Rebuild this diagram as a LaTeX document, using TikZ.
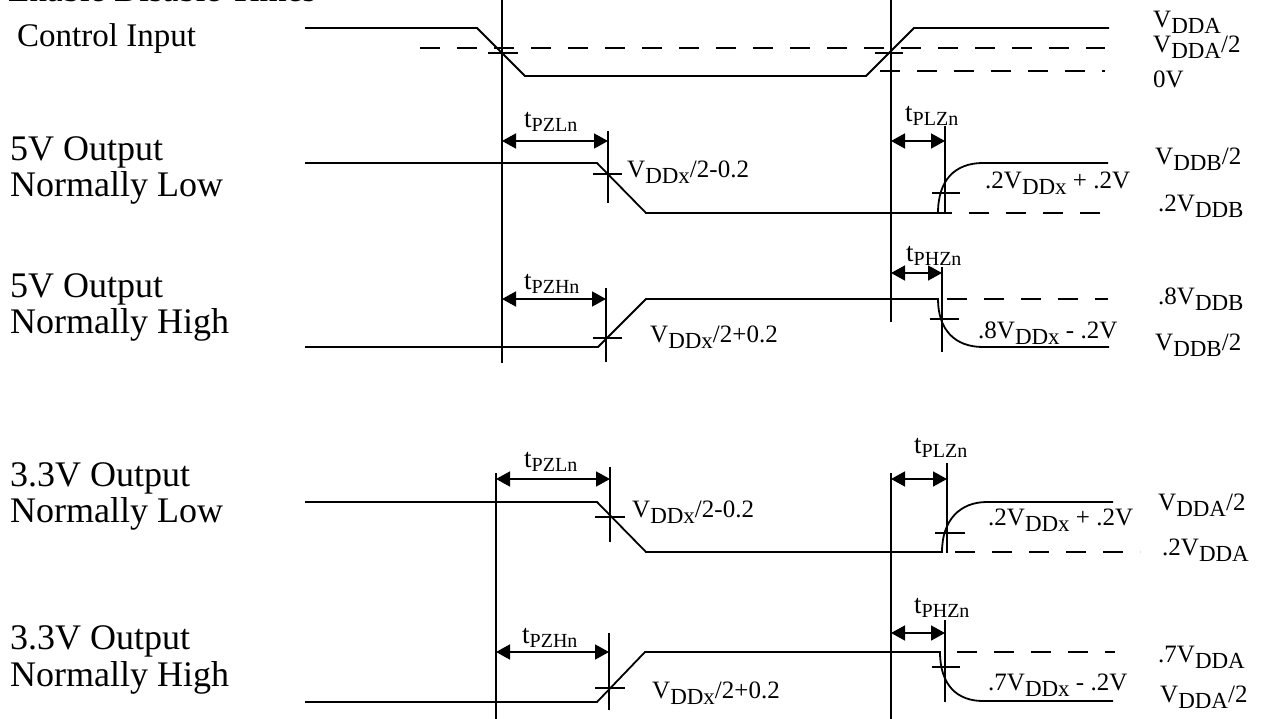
\documentclass[tikz,border=0pt]{standalone}
\usepackage{fontspec}
\setmainfont{Liberation Serif}
\usetikzlibrary{arrows.meta}
\newcommand{\bigf}{\fontsize{33}{36}\selectfont}
\newcommand{\titf}{\fontsize{35}{38}\selectfont}
\newcommand{\leftf}{\fontsize{36}{40}\selectfont}
\newcommand{\midf}{\fontsize{25}{28}\selectfont}
\newcommand{\tf}{\fontsize{27}{30}\selectfont}
\newcommand{\sbx}[1]{\raisebox{-6pt}{\fontsize{23}{23}\selectfont #1}}
\newcommand{\tsb}[1]{\raisebox{-4pt}{\fontsize{20}{20}\selectfont #1}}
\tikzset{
  wave/.style={line width=1.8pt},
  guide/.style={line width=1.3pt},
  dline/.style={line width=1.3pt, dash pattern=on 20pt off 17pt},
  tarrow/.style={{Triangle[length=14pt,width=15pt]}-{Triangle[length=14pt,width=15pt]}, line width=1.6pt},
  lbl/.style={anchor=base west, inner sep=0pt, font=\midf},
  tlbl/.style={anchor=base west, inner sep=0pt, font=\tf},
  lft/.style={anchor=base west, inner sep=0pt, font=\leftf},
}
\begin{document}
\begin{tikzpicture}[x=1pt,y=-1pt]
\clip (0,0) rectangle (1269,719);
\useasboundingbox (0,0) rectangle (1269,719);
% title (cut off at the top edge, as in the reference)
\node[anchor=base west, inner sep=0pt, font=\titf] (title) at (8,2) {Enable Disable Times};
% left labels
\node[anchor=base west, inner sep=0pt, font=\bigf] (ci) at (17,47) {Control Input};
\node[lft] (l1a) at (10,161) {5V Output};
\node[lft] (l1b) at (10,197) {Normally Low};
\node[lft] (l2a) at (10,298) {5V Output};
\node[lft] (l2b) at (10,334) {Normally High};
\node[lft] (l3a) at (10,486) {3.3V Output};
\node[lft] (l3b) at (10,522) {Normally Low};
\node[lft] (l4a) at (10,649) {3.3V Output};
\node[lft] (l4b) at (10,686) {Normally High};

% vertical reference lines
\draw[guide] (502,0) -- (502,363);
\draw[guide] (891,0) -- (891,322);
\draw[guide] (496,473) -- (496,719);
\draw[guide] (891,473) -- (891,719);

% ---- Control input
\draw[dline] (420,48) -- (1105,48);
\draw[dline] (880,71) -- (1105,71);
\draw[wave] (305,28) -- (477,28) -- (525,76) -- (866,76) -- (914,28) -- (1109,28);
\draw[guide] (488,53) -- (518,53);
\draw[guide] (875,53) -- (903,53);
\node[lbl] (r0a) at (1153,28) {V\sbx{DDA}};
\node[lbl] (r0b) at (1153,53) {V\sbx{DDA}/2};
\node[lbl] (r0c) at (1153,88) {0V};

% ---- 5V normally low
\draw[dline] (895,213) -- (1100,213);
\draw[wave] (305,163) -- (597,163) -- (646,213) -- (938,213)
  .. controls (938,180) and (955,163) .. (983,163) -- (1108,163);
\draw[guide] (608,131) -- (608,203);
\draw[guide] (593,174) -- (622,174);
\coordinate (a1s) at (502,141); \coordinate (a1e) at (608,141);
\draw[tarrow] (a1s) -- (a1e);
\node[tlbl] (t1) at (524,128) {t\tsb{PZLn}};
\node[lbl] (v1) at (627,178) {V\sbx{DDx}/2-0.2};
\draw[guide] (945,126) -- (945,213);
\draw[guide] (932,193) -- (960,193);
\coordinate (b1s) at (891,141); \coordinate (b1e) at (945,141);
\draw[tarrow] (b1s) -- (b1e);
\node[tlbl] (u1) at (905,122) {t\tsb{PLZn}};
\node[lbl] (w1) at (985,189) {.2V\sbx{DDx} + .2V};
\node[lbl] (r1a) at (1155,165) {V\sbx{DDB}/2};
\node[lbl] (r1b) at (1158,212) {.2V\sbx{DDB}};

% ---- 5V normally high
\draw[dline] (910,299) -- (1108,299);
\draw[wave] (305,347) -- (598,347) -- (646,299) -- (938,299)
  .. controls (938,330) and (955,347) .. (983,347) -- (1109,347);
\draw[guide] (606,288) -- (606,362);
\draw[guide] (593,338) -- (622,338);
\coordinate (a2s) at (502,299); \coordinate (a2e) at (606,299);
\draw[tarrow] (a2s) -- (a2e);
\node[tlbl] (t2) at (524,290) {t\tsb{PZHn}};
\node[lbl] (v2) at (650,342) {V\sbx{DDx}/2+0.2};
\draw[guide] (942,267) -- (942,352);
\draw[guide] (930,319) -- (959,319);
\coordinate (b2s) at (891,273); \coordinate (b2e) at (942,273);
\draw[tarrow] (b2s) -- (b2e);
\node[tlbl] (u2) at (906,262) {t\tsb{PHZn}};
\node[lbl] (w2) at (978,338) {.8V\sbx{DDx} - .2V};
\node[lbl] (r2a) at (1158,305) {.8V\sbx{DDB}};
\node[lbl] (r2b) at (1155,350) {V\sbx{DDB}/2};

% ---- 3.3V normally low
\draw[dline] (955,552) -- (1140,552);
\draw[wave] (305,502) -- (597,502) -- (646,552) -- (942,552)
  .. controls (942,520) and (960,502) .. (987,502) -- (1113,502);
\draw[guide] (610,467) -- (610,542);
\draw[guide] (595,517) -- (625,517);
\coordinate (a3s) at (496,479); \coordinate (a3e) at (610,479);
\draw[tarrow] (a3s) -- (a3e);
\node[tlbl] (t3) at (524,467) {t\tsb{PZLn}};
\node[lbl] (v3) at (632,517) {V\sbx{DDx}/2-0.2};
\draw[guide] (947,463) -- (947,553);
\draw[guide] (935,533) -- (965,533);
\coordinate (b3s) at (891,479); \coordinate (b3e) at (947,479);
\draw[tarrow] (b3s) -- (b3e);
\node[tlbl] (u3) at (914,453) {t\tsb{PLZn}};
\node[lbl] (w3) at (988,525) {.2V\sbx{DDx} + .2V};
\node[lbl] (r3a) at (1158,510) {V\sbx{DDA}/2};
\node[lbl] (r3b) at (1162,555) {.2V\sbx{DDA}};

% ---- 3.3V normally high
\draw[dline] (920,652) -- (1115,652);
\draw[wave] (305,702) -- (597,702) -- (645,652) -- (940,652)
  .. controls (940,685) and (957,701) .. (983,701) -- (1113,701);
\draw[guide] (609,633) -- (609,710);
\draw[guide] (595,688) -- (625,688);
\coordinate (a4s) at (496,652); \coordinate (a4e) at (609,652);
\draw[tarrow] (a4s) -- (a4e);
\node[tlbl] (t4) at (522,643) {t\tsb{PZHn}};
\node[lbl] (v4) at (652,698) {V\sbx{DDx}/2+0.2};
\draw[guide] (945,620) -- (945,702);
\draw[guide] (932,667) -- (960,667);
\coordinate (b4s) at (891,633); \coordinate (b4e) at (945,633);
\draw[tarrow] (b4s) -- (b4e);
\node[tlbl] (u4) at (914,613) {t\tsb{PHZn}};
\node[lbl] (w4) at (988,690) {.7V\sbx{DDx} - .2V};
\node[lbl] (r4a) at (1158,662) {.7V\sbx{DDA}};
\node[lbl] (r4b) at (1160,702) {V\sbx{DDA}/2};
\end{tikzpicture}
\end{document}
